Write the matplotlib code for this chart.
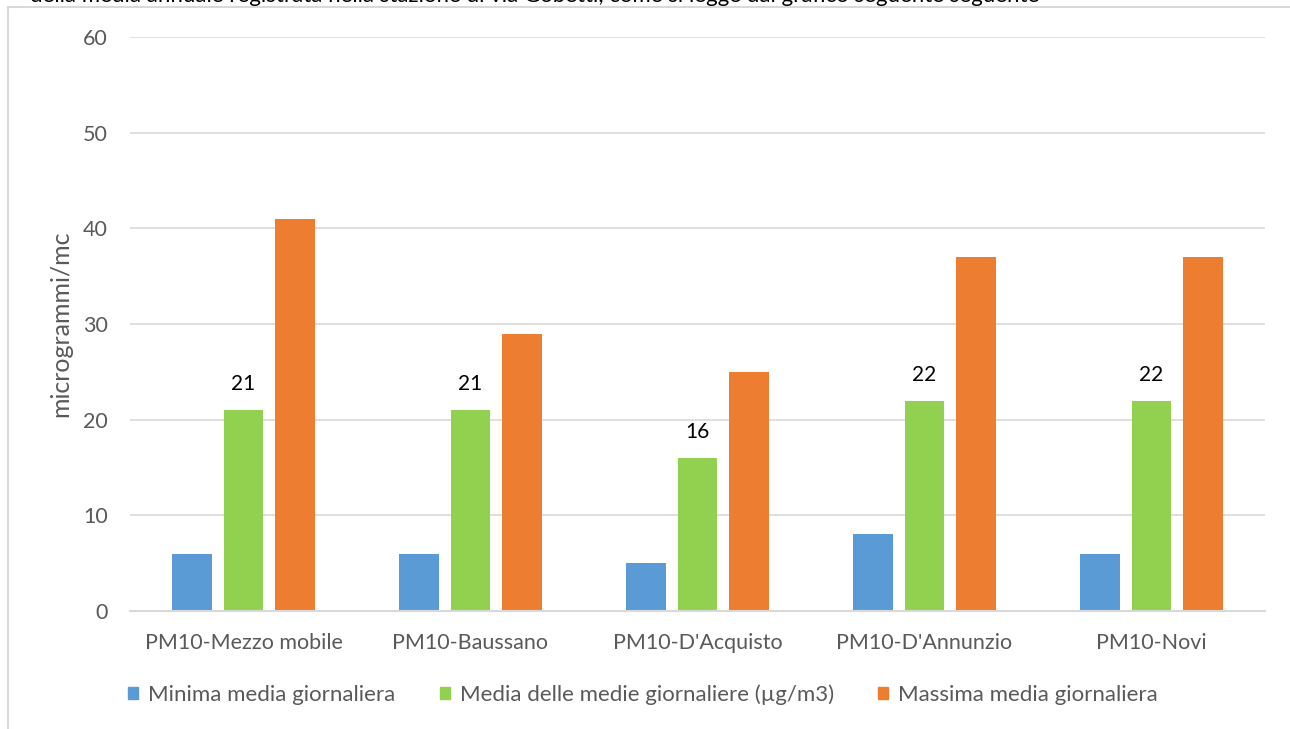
import matplotlib.pyplot as plt
import matplotlib.patches as mpatches
import numpy as np

plt.rcParams['font.family'] = ['Lato', 'DejaVu Sans']

# stations and daily PM10 values (microgrammi/mc)
stazioni = ['PM10-Mezzo mobile', 'PM10-Baussano', "PM10-D'Acquisto", "PM10-D'Annunzio", 'PM10-Novi']
minima = [6, 6, 5, 8, 6]
media = [21, 21, 16, 22, 22]
massima = [41, 29, 25, 37, 37]

serie = ['Minima media giornaliera', 'Media delle medie giornaliere (\u00b5g/m3)', 'Massima media giornaliera']
colori = ['#5b9bd5', '#92d050', '#ed7d31']

grigio = '#595959'
griglia = '#d9d9d9'

fig = plt.figure(figsize=(12.9, 7.29), dpi=100)

# last line of the page text above the chart, cut by the top edge
fig.text(0.023, 1 - 2 / 729, 'della media annuale registrata nella stazione di via Gobetti, come si legge dal grafico seguente seguente',
         fontsize=16, color='black', va='baseline', ha='left')

# chart frame
fig.patches.append(mpatches.Rectangle((8 / 1290, -0.05), 1.2, 1 - 7 / 729 + 0.05,
                                      transform=fig.transFigure, fill=False,
                                      edgecolor=griglia, linewidth=1.5))

ax = fig.add_axes([130 / 1290, 1 - 611 / 729, 1135 / 1290, 574 / 729])

x = np.arange(len(stazioni))
w = 0.176
step = 0.225
bars = []
for i, (vals, col, lab) in enumerate(zip([minima, media, massima], colori, serie)):
    b = ax.bar(x + (i - 1) * step, vals, w, color=col, label=lab, zorder=3)
    bars.append(b)

# value labels only on the average bars
for rect, v in zip(bars[1], media):
    ax.text(rect.get_x() + rect.get_width() / 2, v + 2.7, str(v),
            ha='center', va='center', fontsize=15, color='black')

ax.set_xlim(-0.5, len(stazioni) - 0.5)
ax.set_ylim(0, 60)
ax.set_yticks(range(0, 61, 10))
ax.yaxis.grid(True, color=griglia, linewidth=1.2, zorder=0)
ax.set_xticks(x)
ax.set_xticklabels(stazioni)
ax.tick_params(axis='both', length=0, labelsize=15.5, labelcolor=grigio)
ax.tick_params(axis='x', pad=16)
ax.tick_params(axis='y', pad=16)
for s in ['top', 'right', 'left']:
    ax.spines[s].set_visible(False)
ax.spines['bottom'].set_color(griglia)
ax.spines['bottom'].set_linewidth(1.5)
ax.spines['bottom'].set_zorder(4)

ax.set_ylabel('microgrammi/mc', fontsize=18, color=grigio)
ax.yaxis.set_label_coords(-58 / 1135, 0.5)

handles = [mpatches.Patch(color=c) for c in colori]
fig.legend(handles, serie, loc='center left', bbox_to_anchor=(108 / 1290, 1 - 695 / 729),
           ncol=3, frameon=False, fontsize=16, labelcolor=grigio,
           handlelength=0.45, handleheight=0.45, handletextpad=0.45, columnspacing=2.0)

fig.savefig('out.png', dpi=100)
